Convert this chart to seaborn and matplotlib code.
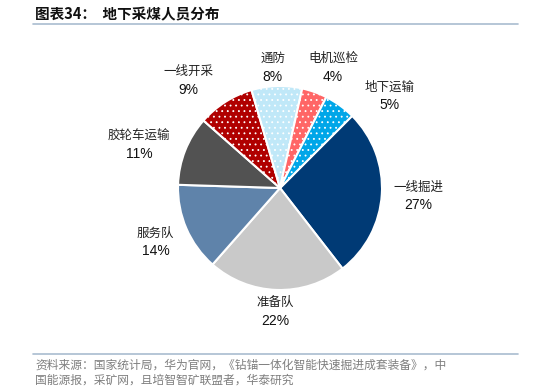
import matplotlib
matplotlib.use("Agg")
import matplotlib.pyplot as plt
from matplotlib.lines import Line2D
import seaborn as sns

sns.set_theme(style="white")
plt.rcParams['font.family'] = ['Noto Sans CJK SC', 'DejaVu Sans']
plt.rcParams['hatch.color'] = 'white'
plt.rcParams['hatch.linewidth'] = 0.6

# Data (clockwise from upper-right)
categories = ['一线掘进', '准备队', '服务队', '胶轮车运输', '一线开采', '通防', '电机巡检', '地下运输']
shares = [27, 22, 14, 11, 9, 8, 4, 5]
colors = ['#003A75', '#C9C9C9', '#5F83AA', '#525252', '#B00000', '#C0E8F8', '#FF6666', '#00A6E8']
hatches = [None, None, None, None, '...', '...', '...', '...']
label_pos = [(1.36, -0.08), (-0.05, -1.21), (-1.22, -0.53), (-1.38, 0.42),
             (-0.90, 1.05), (-0.07, 1.18), (0.52, 1.18), (1.07, 0.90)]

W, H = 534, 389
fig = plt.figure(figsize=(W / 100, H / 100), dpi=100)
fig.patch.set_facecolor('white')

cx, cy, r = 280, 188, 102
ax = fig.add_axes([(cx - r) / W, (H - cy - r) / H, 2 * r / W, 2 * r / H])
palette = sns.color_palette(colors)
wedges, _ = ax.pie(shares, colors=palette, startangle=45, counterclock=False,
                   radius=1.0, wedgeprops=dict(edgecolor='white', linewidth=1.5))
for w, h in zip(wedges, hatches):
    if h:
        w.set_hatch(h)
ax.set_xlim(-1, 1)
ax.set_ylim(-1, 1)
ax.set_aspect('equal')
ax.axis('off')

for cat, val, (lx, ly) in zip(categories, shares, label_pos):
    ax.text(lx, ly + 0.09, cat, ha='center', va='center', fontsize=9, color='#222222')
    ax.text(lx, ly - 0.09, f'{val}%', ha='center', va='center', fontsize=10,
            color='#111111', family=['Liberation Sans', 'DejaVu Sans'])

# Title and rules
fig.text(35 / W, 1 - 14 / H, '图表34：  地下采煤人员分布', ha='left', va='center',
         fontsize=10.5, fontweight='bold', color='#111111')
fig.add_artist(Line2D([33 / W, 518 / W], [1 - 24 / H, 1 - 24 / H], color='#A9BCD0', lw=1.2))
fig.add_artist(Line2D([33 / W, 518 / W], [1 - 354 / H, 1 - 354 / H], color='#A9BCD0', lw=1.2))
fig.text(35 / W, 1 - 365 / H, '资料来源：国家统计局，华为官网，《钻锚一体化智能快速掘进成套装备》，中',
         ha='left', va='center', fontsize=8.5, color='#7F7F7F')
fig.text(35 / W, 1 - 380 / H, '国能源报，采矿网，且培智智矿联盟者，华泰研究',
         ha='left', va='center', fontsize=8.5, color='#7F7F7F')

fig.savefig('out.png', dpi=100, facecolor='white')
